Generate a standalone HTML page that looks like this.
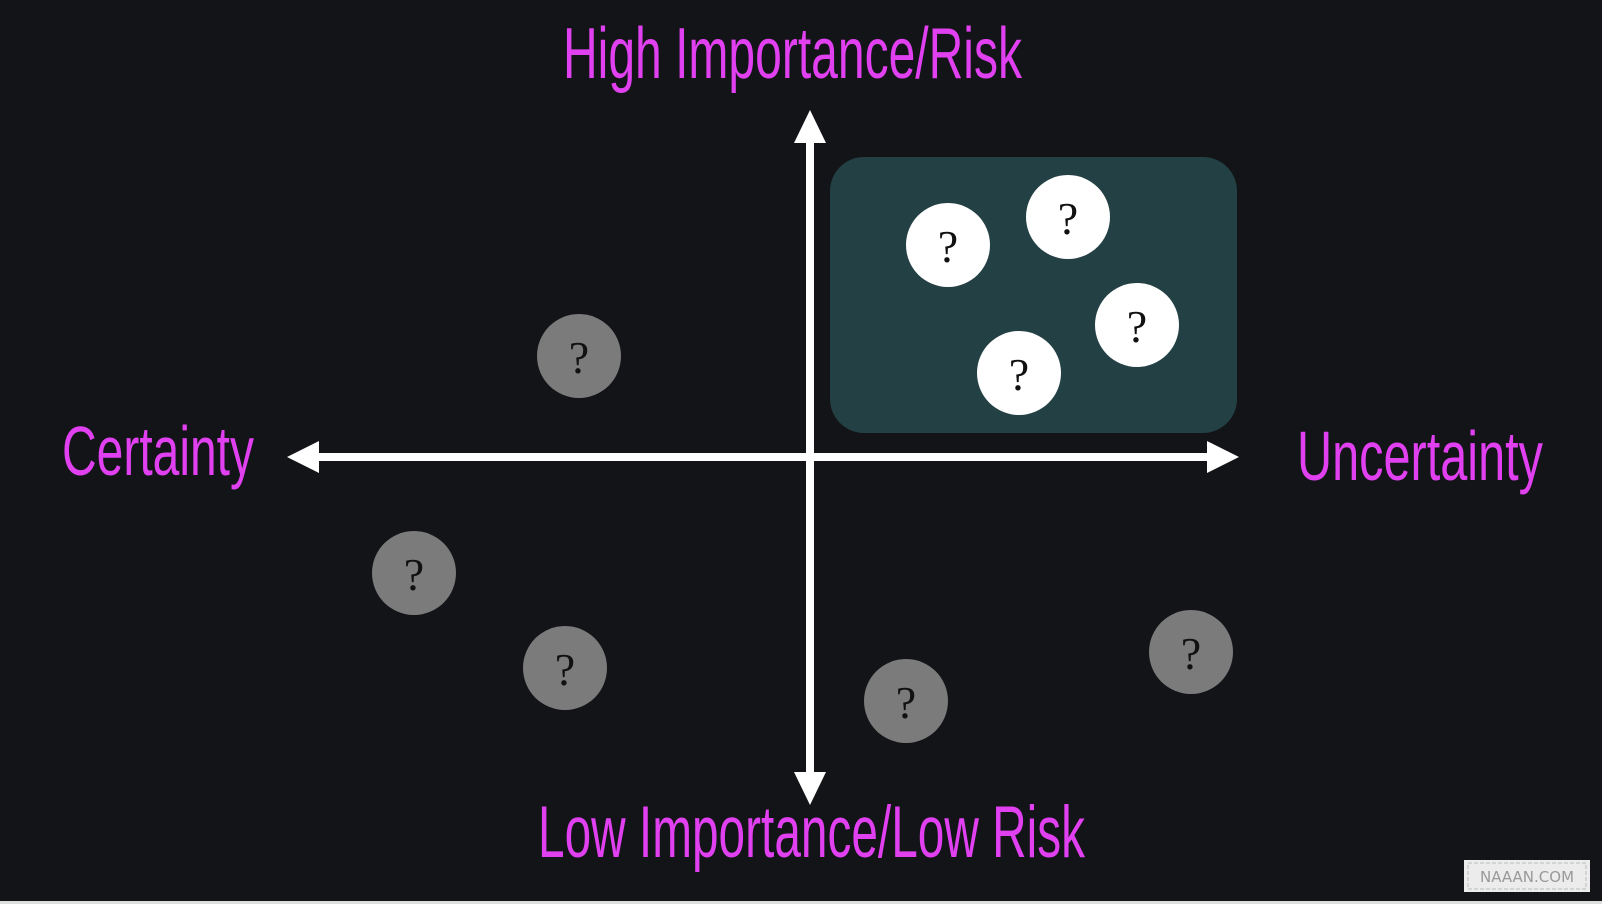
<!DOCTYPE html>
<html><head><meta charset="utf-8"><style>
html,body{margin:0;padding:0;background:#131417;}
svg{display:block}
</style></head><body>
<svg width="1602" height="904" viewBox="0 0 1602 904" xmlns="http://www.w3.org/2000/svg">
<rect width="1602" height="904" fill="#131417"/>
<rect x="830" y="157" width="407" height="276" rx="34" fill="#234044"/>
<rect x="806" y="138" width="8" height="640" fill="#fff"/>
<polygon points="810,110 794,143 826,143" fill="#fff"/>
<polygon points="810,805 794,772 826,772" fill="#fff"/>
<rect x="314" y="453" width="896" height="8" fill="#fff"/>
<polygon points="287,457 319,441 319,473" fill="#fff"/>
<polygon points="1239,457 1207,441 1207,473" fill="#fff"/>
<g font-family="Liberation Sans, sans-serif" fill="#e040f0">
<text x="563" y="78" font-size="72" textLength="459" lengthAdjust="spacingAndGlyphs">High Importance/Risk</text>
<text x="62" y="475" font-size="70" textLength="192" lengthAdjust="spacingAndGlyphs">Certainty</text>
<text x="1297" y="480" font-size="70" textLength="246" lengthAdjust="spacingAndGlyphs">Uncertainty</text>
<text x="538" y="857" font-size="73" textLength="547" lengthAdjust="spacingAndGlyphs">Low Importance/Low Risk</text>
</g>
<g font-family="Liberation Serif, serif" font-size="46" text-anchor="middle" fill="#111">
<circle cx="948" cy="245" r="42" fill="#fff"/><text x="948" y="262">?</text>
<circle cx="1068" cy="217" r="42" fill="#fff"/><text x="1068" y="234">?</text>
<circle cx="1137" cy="325" r="42" fill="#fff"/><text x="1137" y="342">?</text>
<circle cx="1019" cy="373" r="42" fill="#fff"/><text x="1019" y="390">?</text>
<circle cx="579" cy="356" r="42" fill="#7b7b7b"/><text x="579" y="373">?</text>
<circle cx="414" cy="573" r="42" fill="#7b7b7b"/><text x="414" y="590">?</text>
<circle cx="565" cy="668" r="42" fill="#7b7b7b"/><text x="565" y="685">?</text>
<circle cx="906" cy="701" r="42" fill="#7b7b7b"/><text x="906" y="718">?</text>
<circle cx="1191" cy="652" r="42" fill="#7b7b7b"/><text x="1191" y="669">?</text>
</g>
<rect x="1464" y="860" width="126" height="32" fill="#ececec"/>
<rect x="1468" y="863" width="118" height="26" fill="none" stroke="#bbb" stroke-width="1" stroke-dasharray="4 2"/>
<text x="1527" y="882" font-family="DejaVu Sans, sans-serif" font-size="15" text-anchor="middle" fill="#999">NAAAN.COM</text>
<rect x="0" y="901" width="1602" height="3" fill="#ddd"/>
</svg>
</body></html>
